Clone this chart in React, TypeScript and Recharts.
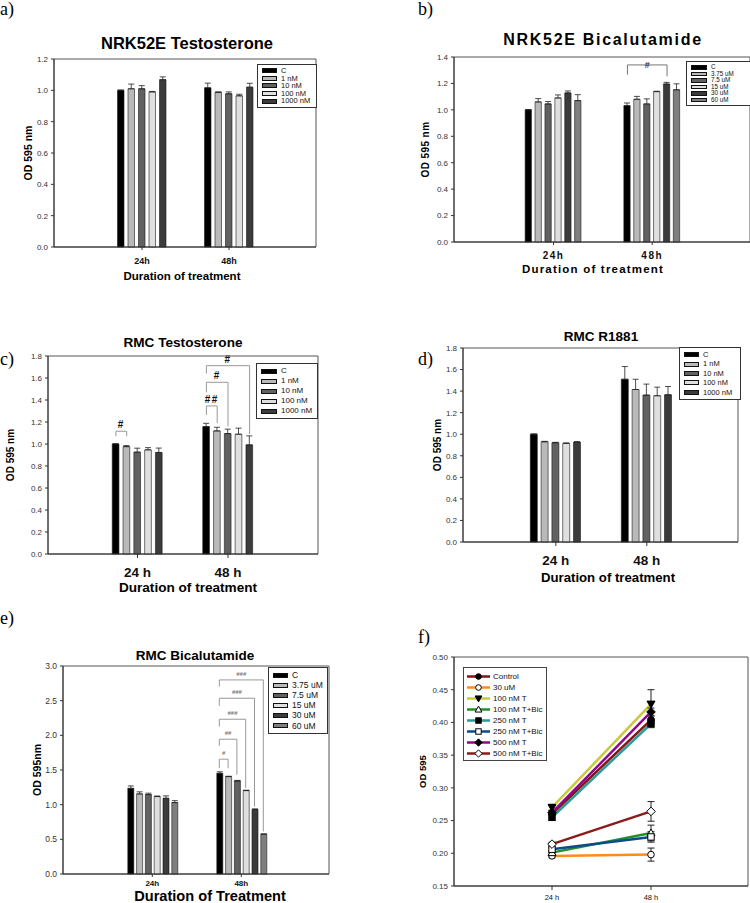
import React from 'react';
import {
  Bar,
  BarChart,
  CartesianGrid,
  ErrorBar,
  Legend,
  Line,
  LineChart,
  ReferenceLine,
  XAxis,
  YAxis
} from 'recharts';

const SANS = '"Liberation Sans", Arial, Helvetica, sans-serif';
const SERIF = '"Liberation Serif", "Times New Roman", serif';

// categories
const timesCompact = ['24h', '48h'];
const timesSpaced = ['24 h', '48 h'];
const testoDoses = ['C', '1 nM', '10 nM', '100 nM', '1000 nM'];
const bicaDoses = ['C', '3.75 uM', '7.5 uM', '15 uM', '30 uM', '60 uM'];
const fSeries = [
  'Control',
  '30 uM',
  '100 nM T',
  '100 nM T+Bic',
  '250 nM T',
  '250 nM T+Bic',
  '500 nM T',
  '500 nM T+Bic'
];

// y ticks
const ticks12 = [0, 0.2, 0.4, 0.6, 0.8, 1.0, 1.2];
const ticks14 = [0, 0.2, 0.4, 0.6, 0.8, 1.0, 1.2, 1.4];
const ticks18 = [0, 0.2, 0.4, 0.6, 0.8, 1.0, 1.2, 1.4, 1.6, 1.8];
const ticks30 = [0, 0.5, 1.0, 1.5, 2.0, 2.5, 3.0];
const ticksF = [0.15, 0.2, 0.25, 0.3, 0.35, 0.4, 0.45, 0.5];

// a) NRK52E Testosterone
const aMean24 = [1.0, 1.01, 1.01, 0.99, 1.068];
const aErr24 = [0.002, 0.03, 0.02, 0.003, 0.018];
const aMean48 = [1.016, 0.987, 0.978, 0.965, 1.02];
const aErr48 = [0.03, 0.003, 0.012, 0.01, 0.025];

// b) NRK52E Bicalutamide
const bMean24 = [1.0, 1.06, 1.045, 1.09, 1.128, 1.07];
const bErr24 = [0.002, 0.025, 0.018, 0.023, 0.015, 0.045];
const bMean48 = [1.032, 1.08, 1.045, 1.138, 1.195, 1.152];
const bErr48 = [0.02, 0.022, 0.038, 0.003, 0.013, 0.045];

// c) RMC Testosterone
const cMean24 = [1.0, 0.976, 0.926, 0.947, 0.923];
const cErr24 = [0.003, 0.01, 0.036, 0.02, 0.04];
const cMean48 = [1.158, 1.119, 1.095, 1.089, 0.992];
const cErr48 = [0.03, 0.033, 0.04, 0.055, 0.082];

// d) RMC R1881
const dMean24 = [1.0, 0.93, 0.921, 0.915, 0.927];
const dErr24 = [0.003, 0.004, 0.004, 0.004, 0.004];
const dMean48 = [1.51, 1.415, 1.363, 1.357, 1.366];
const dErr48 = [0.118, 0.095, 0.102, 0.08, 0.077];

// e) RMC Bicalutamide
const eMean24 = [1.235, 1.155, 1.146, 1.117, 1.092, 1.03];
const eErr24 = [0.035, 0.03, 0.02, 0.008, 0.035, 0.028];
const eMean48 = [1.452, 1.405, 1.342, 1.203, 0.933, 0.574];
const eErr48 = [0.022, 0.005, 0.008, 0.006, 0.004, 0.004];

// f) time course
const fMean24 = [0.26, 0.196, 0.27, 0.201, 0.255, 0.206, 0.262, 0.214];
const fErr24 = [0.005, 0.003, 0.005, 0.003, 0.005, 0.003, 0.004, 0.003];
const fMean48 = [0.404, 0.198, 0.428, 0.231, 0.398, 0.225, 0.416, 0.264];
const fErr48 = [0.006, 0.01, 0.022, 0.012, 0.006, 0.008, 0.006, 0.015];

// significance brackets: bar indexes in a group, bracket level, leg bottoms
type Bracket = { at: string; from: number; to: number; top: number; fromBase: number; toBase: number; label: string };
const bBrackets: Bracket[] = [{ at: '48h', from: 0, to: 4, top: 1.34, fromBase: 1.266, toBase: 1.254, label: '#' }];
const cBrackets: Bracket[] = [
  { at: '24 h', from: 0, to: 1, top: 1.116, fromBase: 1.07, toBase: 1.07, label: '#' },
  { at: '48 h', from: 0, to: 1, top: 1.346, fromBase: 1.264, toBase: 1.19, label: '##' },
  { at: '48 h', from: 0, to: 2, top: 1.561, fromBase: 1.47, toBase: 1.16, label: '#' },
  { at: '48 h', from: 0, to: 4, top: 1.712, fromBase: 1.64, toBase: 1.09, label: '#' }
];
const eBrackets: Bracket[] = [
  { at: '48h', from: 0, to: 1, top: 1.656, fromBase: 1.527, toBase: 1.527, label: '#' },
  { at: '48h', from: 0, to: 2, top: 1.944, fromBase: 1.848, toBase: 1.431, label: '##' },
  { at: '48h', from: 0, to: 3, top: 2.232, fromBase: 2.127, toBase: 1.239, label: '###' },
  { at: '48h', from: 0, to: 4, top: 2.535, fromBase: 2.424, toBase: 0.975, label: '###' },
  { at: '48h', from: 0, to: 5, top: 2.799, fromBase: 2.703, toBase: 0.614, label: '###' }
];

// styles
const testoFills = ['#000000', '#b9b9b9', '#616161', '#dfdfdf', '#3b3b3b'];
const bicaFills = ['#000000', '#b9b9b9', '#616161', '#dfdfdf', '#3b3b3b', '#7f7f7f'];
const fColors = ['#8a1212', '#ff8c1a', '#c9c93c', '#22902a', '#2b9b9b', '#0d4c8c', '#8a0a8a', '#8b1c1c'];
const fMarkers = ['circle', 'circle', 'triDown', 'triUp', 'square', 'square', 'diamond', 'diamond'];
const fFilled = [true, false, true, false, true, false, true, false];

const frameH = ({ offset }: any) => [offset.top, offset.top + offset.height];
const frameV = ({ offset }: any) => [offset.left, offset.left + offset.width];

const yTitle = (text: string, dx: number, size: number, spacing = 0) => (props: any) => {
  const vb = props.viewBox ?? { x: 0, y: 0, width: 0, height: 0 };
  const x = vb.x + dx;
  const y = vb.y + vb.height / 2;
  return (
    <text
      x={x}
      y={y}
      transform={`rotate(-90 ${x} ${y})`}
      textAnchor="middle"
      dominantBaseline="central"
      fontSize={size}
      fontWeight={700}
      letterSpacing={spacing}
      fill="#000"
    >
      {text}
    </text>
  );
};

type LegendBox = { left: number; top: number; width: number; height: number; font: number; swatchW: number; swatchH: number };

function BarLegend({ doses, fills, box }: { doses: string[]; fills: string[]; box: LegendBox }) {
  const rowH = (box.height - 6) / doses.length;
  return (
    <div
      style={{
        boxSizing: 'border-box',
        width: box.width,
        height: box.height,
        border: '1px solid #333',
        background: '#fff',
        padding: '2px 4px',
        fontFamily: SANS,
        fontSize: box.font,
        lineHeight: 1,
        color: '#111'
      }}
    >
      {doses.map((d, i) => (
        <div key={d} style={{ display: 'flex', alignItems: 'center', height: rowH }}>
          <span
            style={{
              boxSizing: 'border-box',
              width: box.swatchW,
              height: box.swatchH,
              background: fills[i],
              border: '1px solid #111',
              marginRight: 4,
              flex: 'none'
            }}
          />
          <span style={{ whiteSpace: 'nowrap' }}>{d}</span>
        </div>
      ))}
    </div>
  );
}

type BarPanelProps = {
  left: number;
  top: number;
  width: number;
  height: number;
  yWidth: number;
  marginTop: number;
  marginRight: number;
  xHeight: number;
  times: string[];
  doses: string[];
  fills: string[];
  means: number[][];
  errs: number[][];
  yTicks: number[];
  yTickFont?: number;
  padL: number;
  padR: number;
  barSize: number;
  barGap: number;
  xTick: { fontSize: number; fontWeight: number; letterSpacing?: number; size: number; margin: number };
  yLabel: string;
  yLabelX: number;
  yLabelSize: number;
  yLabelSpacing?: number;
  legend: LegendBox;
  brackets?: Bracket[];
  bracketStyle?: { color: string; textColor: string; font: number; dy: number; spacing?: number };
};

function BarPanel(p: BarPanelProps) {
  const rows = p.times.map((t, ti) => {
    const row: Record<string, any> = { time: t };
    p.doses.forEach((_, si) => {
      row[`m${si}`] = p.means[ti][si];
      row[`e${si}`] = [0, p.errs[ti][si]];
    });
    return row;
  });
  const n = p.doses.length;
  const off = (i: number) => (i - (n - 1) / 2) * (p.barSize + p.barGap);
  const yMax = p.yTicks[p.yTicks.length - 1];
  const bs = p.bracketStyle ?? { color: '#888', textColor: '#222', font: 9, dy: -3 };

  return (
    <div style={{ position: 'absolute', left: p.left, top: p.top }}>
      <BarChart
        width={p.width}
        height={p.height}
        data={rows}
        margin={{ top: p.marginTop, right: p.marginRight, left: 0, bottom: 0 }}
        barSize={p.barSize}
        barGap={p.barGap}
      >
        <CartesianGrid stroke="#555" horizontalCoordinatesGenerator={frameH} verticalCoordinatesGenerator={frameV} />
        <XAxis
          dataKey="time"
          height={p.xHeight}
          padding={{ left: p.padL, right: p.padR }}
          interval={0}
          tickSize={p.xTick.size}
          tickMargin={p.xTick.margin}
          tick={{ fontSize: p.xTick.fontSize, fontWeight: p.xTick.fontWeight, letterSpacing: p.xTick.letterSpacing, fill: '#111' }}
          axisLine={{ stroke: '#333' }}
          tickLine={{ stroke: '#333' }}
        />
        <YAxis
          domain={[0, yMax]}
          ticks={p.yTicks}
          interval={0}
          tickFormatter={(v: number) => v.toFixed(1)}
          width={p.yWidth}
          tickSize={3}
          tickMargin={3}
          tick={{ fontSize: p.yTickFont ?? 8, fill: '#333' }}
          axisLine={{ stroke: '#333' }}
          tickLine={{ stroke: '#333' }}
          label={yTitle(p.yLabel, p.yLabelX, p.yLabelSize, p.yLabelSpacing)}
        />
        {p.doses.map((d, si) => (
          <Bar
            key={d}
            dataKey={`m${si}`}
            name={d}
            fill={p.fills[si]}
            stroke="#1a1a1a"
            strokeWidth={0.6}
            isAnimationActive={false}
          >
            <ErrorBar dataKey={`e${si}`} width={3} stroke="#222" strokeWidth={0.8} direction="y" isAnimationActive={false} />
          </Bar>
        ))}
        {(p.brackets ?? []).map((b, bi) => {
          const dxF = off(b.from);
          const dxT = off(b.to);
          return [
            <ReferenceLine
              key={`bl${bi}`}
              segment={[
                { x: b.at, y: b.fromBase },
                { x: b.at, y: b.top }
              ]}
              ifOverflow="visible"
              shape={(s: any) => (
                <g>
                  <path
                    d={`M${s.x1 + dxF},${s.y1}V${s.y2}H${s.x1 + dxT}`}
                    fill="none"
                    stroke={bs.color}
                    strokeWidth={1}
                  />
                  <text
                    x={s.x1 + (dxF + dxT) / 2}
                    y={s.y2 + bs.dy}
                    textAnchor="middle"
                    fontSize={bs.font}
                    fontWeight={700}
                    letterSpacing={bs.spacing ?? 0}
                    fill={bs.textColor}
                  >
                    {b.label}
                  </text>
                </g>
              )}
            />,
            <ReferenceLine
              key={`br${bi}`}
              segment={[
                { x: b.at, y: b.toBase },
                { x: b.at, y: b.top }
              ]}
              ifOverflow="visible"
              shape={(s: any) => (
                <path d={`M${s.x1 + dxT},${s.y1}V${s.y2}`} fill="none" stroke={bs.color} strokeWidth={1} />
              )}
            />
          ];
        })}
        <Legend
          layout="vertical"
          align="center"
          verticalAlign="middle"
          wrapperStyle={{ left: p.legend.left, top: p.legend.top, width: p.legend.width, height: p.legend.height }}
          content={() => <BarLegend doses={p.doses} fills={p.fills} box={p.legend} />}
        />
      </BarChart>
    </div>
  );
}

function Marker({ kind, filled, cx, cy, s = 1 }: { kind: string; filled: boolean; cx: number; cy: number; s?: number }) {
  const paint = { fill: filled ? '#000' : '#fff', stroke: '#000', strokeWidth: 1 };
  if (kind === 'circle') return <circle cx={cx} cy={cy} r={3.3 * s} {...paint} />;
  if (kind === 'triDown')
    return <polygon points={`${cx - 4 * s},${cy - 3 * s} ${cx + 4 * s},${cy - 3 * s} ${cx},${cy + 4 * s}`} {...paint} />;
  if (kind === 'triUp')
    return <polygon points={`${cx - 4 * s},${cy + 3 * s} ${cx + 4 * s},${cy + 3 * s} ${cx},${cy - 4 * s}`} {...paint} />;
  if (kind === 'square') return <rect x={cx - 3.2 * s} y={cy - 3.2 * s} width={6.4 * s} height={6.4 * s} {...paint} />;
  return (
    <polygon
      points={`${cx},${cy - 4.3 * s} ${cx + 4.3 * s},${cy} ${cx},${cy + 4.3 * s} ${cx - 4.3 * s},${cy}`}
      {...paint}
    />
  );
}

function LineLegend() {
  return (
    <div
      style={{
        boxSizing: 'border-box',
        width: 84,
        height: 94,
        border: '1px solid #444',
        background: '#fff',
        padding: '3px 3px',
        fontFamily: SANS,
        fontSize: 8,
        lineHeight: 1,
        color: '#111'
      }}
    >
      {fSeries.map((name, i) => (
        <div key={name} style={{ display: 'flex', alignItems: 'center', height: 11 }}>
          <svg width={23} height={9} style={{ flex: 'none' }}>
            <line x1={0} y1={4.5} x2={23} y2={4.5} stroke={fColors[i]} strokeWidth={2.5} />
            <Marker kind={fMarkers[i]} filled={fFilled[i]} cx={11.5} cy={4.5} s={0.85} />
          </svg>
          <span style={{ marginLeft: 3, whiteSpace: 'nowrap' }}>{name}</span>
        </div>
      ))}
    </div>
  );
}

function LinePanel() {
  const means = [fMean24, fMean48];
  const errs = [fErr24, fErr48];
  const rows = timesSpaced.map((t, ti) => {
    const row: Record<string, any> = { time: t };
    fSeries.forEach((_, si) => {
      row[`m${si}`] = means[ti][si];
      row[`e${si}`] = errs[ti][si];
    });
    return row;
  });
  return (
    <div style={{ position: 'absolute', left: 375, top: 647 }}>
      <LineChart width={375} height={256} data={rows} margin={{ top: 10, right: 2, left: 0, bottom: 0 }}>
        <CartesianGrid stroke="#555" horizontalCoordinatesGenerator={frameH} verticalCoordinatesGenerator={frameV} />
        <XAxis
          dataKey="time"
          scale="point"
          height={17}
          padding={{ left: 98, right: 97 }}
          interval={0}
          tickSize={4}
          tickMargin={5}
          tick={{ fontSize: 7.5, fill: '#111' }}
          axisLine={{ stroke: '#333' }}
          tickLine={{ stroke: '#333' }}
        />
        <YAxis
          domain={[0.15, 0.5]}
          ticks={ticksF}
          interval={0}
          tickFormatter={(v: number) => v.toFixed(2)}
          width={79}
          tickSize={3}
          tickMargin={3}
          tick={{ fontSize: 8, fill: '#333' }}
          axisLine={{ stroke: '#333' }}
          tickLine={{ stroke: '#333' }}
          label={yTitle('OD 595', 47, 9.5)}
        />
        {fSeries.map((name, si) => (
          <Line
            key={name}
            dataKey={`m${si}`}
            name={name}
            stroke={fColors[si]}
            strokeWidth={2.5}
            isAnimationActive={false}
            activeDot={false}
            dot={(d: any) => (
              <Marker key={`${name}-${d.index}`} kind={fMarkers[si]} filled={fFilled[si]} cx={d.cx} cy={d.cy} />
            )}
          >
            <ErrorBar dataKey={`e${si}`} width={3.5} stroke="#222" strokeWidth={1} direction="y" isAnimationActive={false} />
          </Line>
        ))}
        <Legend
          layout="vertical"
          align="center"
          verticalAlign="middle"
          wrapperStyle={{ left: 88, top: 20, width: 84, height: 94 }}
          content={() => <LineLegend />}
        />
      </LineChart>
    </div>
  );
}

function Caption({
  x,
  y,
  size,
  spacing = 0,
  children
}: {
  x: number;
  y: number;
  size: number;
  spacing?: number;
  children: React.ReactNode;
}) {
  return (
    <div
      style={{
        position: 'absolute',
        left: x,
        top: y,
        transform: 'translate(-50%, -50%)',
        fontFamily: SANS,
        fontSize: size,
        fontWeight: 700,
        letterSpacing: spacing,
        whiteSpace: 'nowrap',
        lineHeight: 1,
        color: '#000'
      }}
    >
      {children}
    </div>
  );
}

function PanelLetter({ x, y, children }: { x: number; y: number; children: React.ReactNode }) {
  return (
    <div style={{ position: 'absolute', left: x, top: y, fontFamily: SERIF, fontSize: 18, lineHeight: 1, color: '#000' }}>
      {children}
    </div>
  );
}

export default function App() {
  return (
    <div
      style={{
        position: 'absolute',
        left: 0,
        top: 0,
        width: 750,
        height: 903,
        overflow: 'hidden',
        background: '#fff',
        fontFamily: SANS
      }}
    >
      <BarPanel
        left={0}
        top={49}
        width={336}
        height={238}
        yWidth={54}
        marginTop={10}
        marginRight={20}
        xHeight={40}
        times={timesCompact}
        doses={testoDoses}
        fills={testoFills}
        means={[aMean24, aMean48]}
        errs={[aErr24, aErr48]}
        yTicks={ticks12}
        padL={44.5}
        padR={43.5}
        barSize={6.5}
        barGap={4}
        xTick={{ fontSize: 9, fontWeight: 700, size: 3, margin: 8 }}
        yLabel="OD 595 nm"
        yLabelX={28}
        yLabelSize={10.5}
        legend={{ left: 257, top: 15, width: 60, height: 44, font: 7.5, swatchW: 15, swatchH: 5 }}
      />
      <BarPanel
        left={375}
        top={47}
        width={375}
        height={235}
        yWidth={79}
        marginTop={10}
        marginRight={0}
        xHeight={40}
        times={timesCompact}
        doses={bicaDoses}
        fills={bicaFills}
        means={[bMean24, bMean48]}
        errs={[bErr24, bErr48]}
        yTicks={ticks14}
        padL={50.15}
        padR={48.45}
        barSize={6.3}
        barGap={3.6}
        xTick={{ fontSize: 10, fontWeight: 700, letterSpacing: 1.5, size: 3, margin: 7 }}
        yLabel="OD 595 nm"
        yLabelX={50}
        yLabelSize={10}
        yLabelSpacing={0.4}
        legend={{ left: 311, top: 14, width: 72, height: 45, font: 6.3, swatchW: 16, swatchH: 4.5 }}
        brackets={bBrackets}
        bracketStyle={{ color: '#777', textColor: '#333', font: 9, dy: 3.5 }}
      />
      <BarPanel
        left={0}
        top={346}
        width={338}
        height={248}
        yWidth={48}
        marginTop={10}
        marginRight={20}
        xHeight={40}
        times={timesSpaced}
        doses={testoDoses}
        fills={testoFills}
        means={[cMean24, cMean48]}
        errs={[cErr24, cErr48]}
        yTicks={ticks18}
        padL={44.25}
        padR={44.75}
        barSize={6.7}
        barGap={4.1}
        xTick={{ fontSize: 13.5, fontWeight: 700, size: 4, margin: 9 }}
        yLabel="OD 595 nm"
        yLabelX={10}
        yLabelSize={10}
        legend={{ left: 256, top: 17, width: 62, height: 56, font: 8, swatchW: 16, swatchH: 5 }}
        brackets={cBrackets}
        bracketStyle={{ color: '#999', textColor: '#111', font: 10, dy: -3, spacing: 1.5 }}
      />
      <BarPanel
        left={375}
        top={338}
        width={375}
        height={244}
        yWidth={88}
        marginTop={10}
        marginRight={12}
        xHeight={40}
        times={timesSpaced}
        doses={testoDoses}
        fills={testoFills}
        means={[dMean24, dMean48]}
        errs={[dErr24, dErr48]}
        yTicks={ticks18}
        padL={47.3}
        padR={45.7}
        barSize={7}
        barGap={3.8}
        xTick={{ fontSize: 13.5, fontWeight: 700, size: 4, margin: 9 }}
        yLabel="OD 595 nm"
        yLabelX={62}
        yLabelSize={10}
        legend={{ left: 304, top: 9, width: 62, height: 53, font: 7.5, swatchW: 15, swatchH: 5 }}
      />
      <BarPanel
        left={0}
        top={656}
        width={349}
        height={238}
        yWidth={63}
        marginTop={10}
        marginRight={20}
        xHeight={20}
        times={timesCompact}
        doses={bicaDoses}
        fills={bicaFills}
        means={[eMean24, eMean48]}
        errs={[eErr24, eErr48]}
        yTicks={ticks30}
        yTickFont={8.5}
        padL={44.8}
        padR={43.2}
        barSize={6}
        barGap={2.8}
        xTick={{ fontSize: 8, fontWeight: 700, size: 3, margin: 3 }}
        yLabel="OD 595nm"
        yLabelX={37}
        yLabelSize={10.5}
        legend={{ left: 268, top: 11, width: 60, height: 67, font: 8.5, swatchW: 15, swatchH: 5 }}
        brackets={eBrackets}
        bracketStyle={{ color: '#999', textColor: '#777', font: 6, dy: -4 }}
      />
      <LinePanel />

      <Caption x={187} y={43} size={16.5}>NRK52E Testosterone</Caption>
      <Caption x={603} y={40} size={16} spacing={1.7}>NRK52E Bicalutamide</Caption>
      <Caption x={183} y={343} size={13.6}>RMC Testosterone</Caption>
      <Caption x={601} y={337} size={13.5}>RMC R1881</Caption>
      <Caption x={195} y={656} size={13.5}>RMC Bicalutamide</Caption>

      <Caption x={182} y={277} size={11.5}>Duration of treatment</Caption>
      <Caption x={593} y={270} size={11.5} spacing={1.2}>Duration of treatment</Caption>
      <Caption x={188} y={588} size={13.6}>Duration of treatment</Caption>
      <Caption x={608} y={578} size={13.2}>Duration of treatment</Caption>
      <Caption x={210} y={896} size={14.6}>Duration of Treatment</Caption>

      <PanelLetter x={0} y={0}>a)</PanelLetter>
      <PanelLetter x={418} y={0}>b)</PanelLetter>
      <PanelLetter x={0} y={350}>c)</PanelLetter>
      <PanelLetter x={418} y={350}>d)</PanelLetter>
      <PanelLetter x={0} y={609}>e)</PanelLetter>
      <PanelLetter x={418} y={628}>f)</PanelLetter>
    </div>
  );
}
